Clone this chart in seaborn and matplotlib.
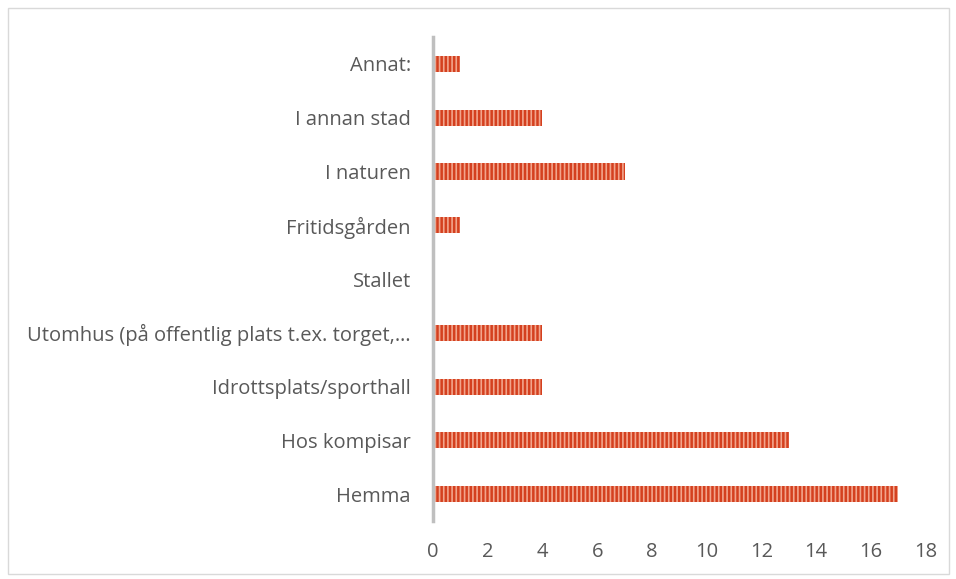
import matplotlib
matplotlib.use("Agg")
import matplotlib.pyplot as plt
import seaborn as sns
import pandas as pd

# values (top to bottom)
places = ["Annat:", "I annan stad", "I naturen", "Fritidsgården", "Stallet",
          "Utomhus (på offentlig plats t.ex. torget,…", "Idrottsplats/sporthall",
          "Hos kompisar", "Hemma"]
counts = [1, 4, 7, 1, 0, 4, 4, 13, 17]
xticks = [0, 2, 4, 6, 8, 10, 12, 14, 16, 18]

df = pd.DataFrame({"place": places, "count": counts})

sns.set_style("white")
plt.rcParams["font.family"] = ["Open Sans", "DejaVu Sans"]
plt.rcParams["hatch.linewidth"] = 1.2

fig = plt.figure(figsize=(9.56, 5.79), dpi=100)
ax = fig.add_axes([0.453, 0.10, 0.515, 0.836])

sns.barplot(data=df, x="count", y="place", ax=ax, color="#D4401F",
            width=0.3, saturation=1, edgecolor="#F2A58C", linewidth=0)
for bar in ax.patches:
    bar.set_hatch("||||")

ax.set_xlim(0, 18)
ax.set_xticks(xticks)
ax.set_xlabel("")
ax.set_ylabel("")
ax.tick_params(axis="both", length=0, labelsize=14.5, colors="#595959")
ax.tick_params(axis="y", pad=16)
ax.tick_params(axis="x", pad=15)
for side in ["top", "right", "bottom"]:
    ax.spines[side].set_visible(False)
ax.spines["left"].set_color("#BFBFBF")
ax.spines["left"].set_linewidth(2.5)

# light outer frame like the chart area border
fig.patches.append(plt.Rectangle((0.008, 0.008), 0.985, 0.979, transform=fig.transFigure,
                                 fill=False, edgecolor="#D9D9D9", linewidth=1))

fig.savefig("out.png", dpi=100)
